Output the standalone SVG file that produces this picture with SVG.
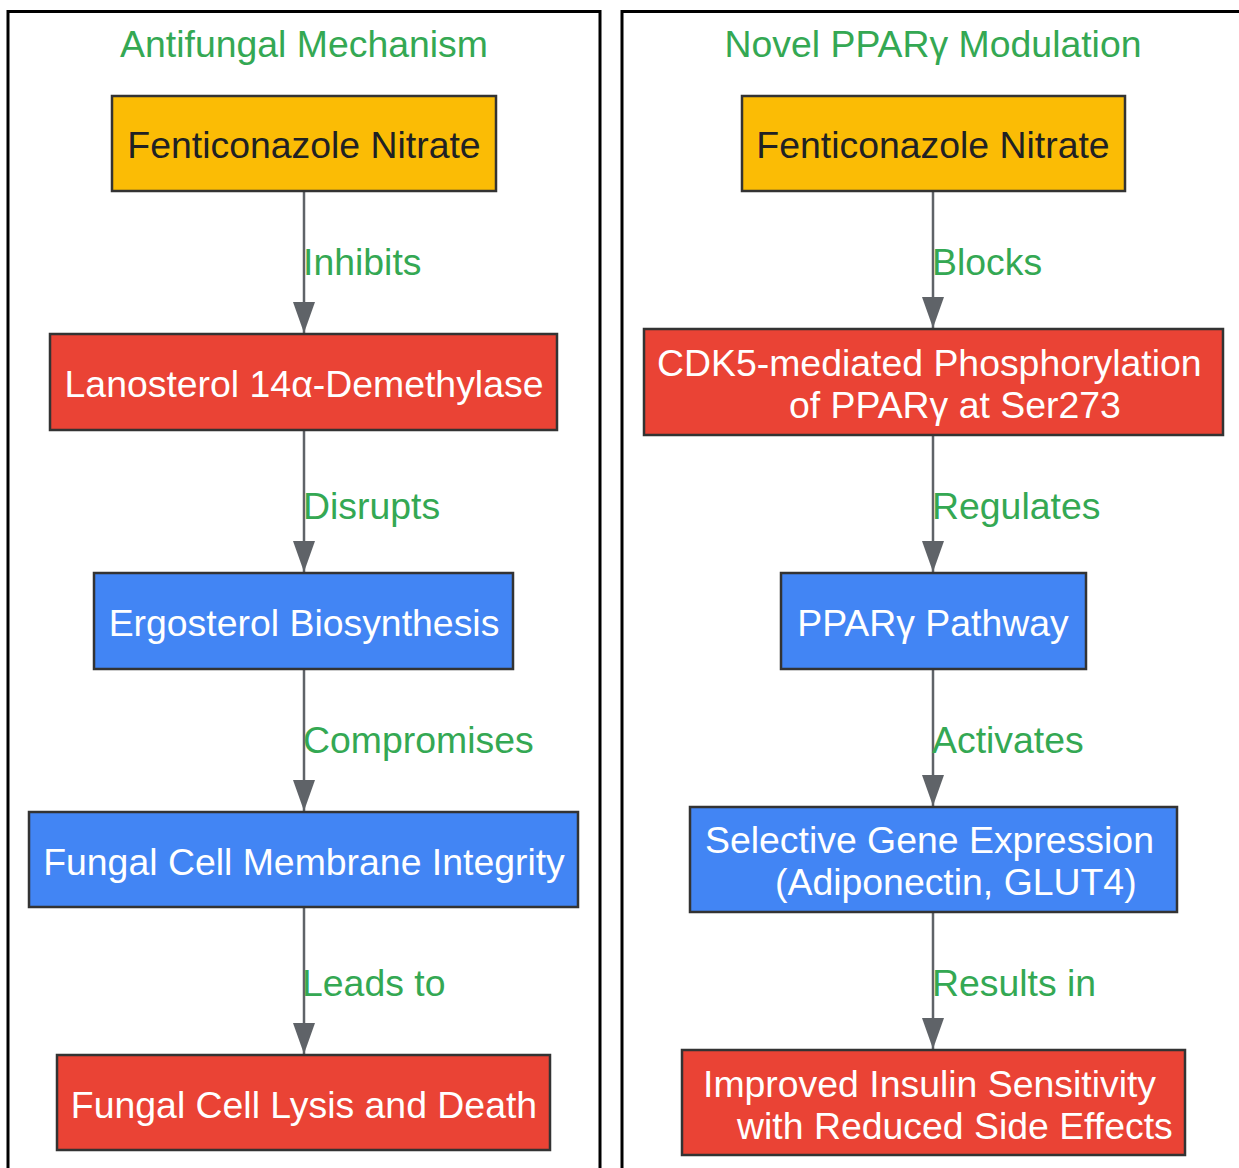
<svg xmlns="http://www.w3.org/2000/svg" width="1239" height="1168" viewBox="0 0 1239 1168">
<style>
text{font-family:"Liberation Sans",Arial,sans-serif;font-size:37.4px}
.cl{fill:#fff;stroke:#000;stroke-width:3}
.t{fill:#34A853;text-anchor:middle}
.y{fill:#FBBC05;stroke:#333;stroke-width:2.5}
.r{fill:#EA4335;stroke:#333;stroke-width:2.5}
.b{fill:#4285F4;stroke:#333;stroke-width:2.5}
.dk{fill:#202124;text-anchor:middle}
.w{fill:#fff;text-anchor:middle}
.ws{fill:#fff}
.e{stroke:#5F6368;stroke-width:2.5;fill:none}
.lb{fill:#34A853}
</style>
<defs>
<marker id="ah" viewBox="0 0 31 22" refX="31" refY="11" markerWidth="31" markerHeight="22" markerUnits="userSpaceOnUse" orient="auto">
<path d="M0,0 L31,11 L0,22 Z" fill="#5F6368"/>
</marker>
</defs>
<g id="clusters">
<rect class="cl" x="8" y="11.5" width="592" height="1170"/>
<text class="t" x="304" y="57">Antifungal Mechanism</text>
<rect class="cl" x="622" y="11.5" width="640" height="1170"/>
<text class="t" x="933" y="57">Novel PPARγ Modulation</text>
</g>
<g id="connectors">
<path class="e" d="M304,191 V333" marker-end="url(#ah)"/>
<path class="e" d="M304,430 V572" marker-end="url(#ah)"/>
<path class="e" d="M304,669 V811" marker-end="url(#ah)"/>
<path class="e" d="M304,907 V1054" marker-end="url(#ah)"/>
<path class="e" d="M933,191 V328" marker-end="url(#ah)"/>
<path class="e" d="M933,435 V572" marker-end="url(#ah)"/>
<path class="e" d="M933,669 V806" marker-end="url(#ah)"/>
<path class="e" d="M933,912 V1049" marker-end="url(#ah)"/>
<text class="lb" x="303" y="275">Inhibits</text>
<text class="lb" x="303" y="519">Disrupts</text>
<text class="lb" x="303" y="753">Compromises</text>
<text class="lb" x="302" y="996">Leads to</text>
<text class="lb" x="932" y="275">Blocks</text>
<text class="lb" x="932" y="519">Regulates</text>
<text class="lb" x="932" y="753">Activates</text>
<text class="lb" x="932" y="996">Results in</text>
</g>
<g id="a1"><rect class="y" x="112" y="96" width="384" height="95"/><text class="dk" x="304" y="158">Fenticonazole Nitrate</text></g>
<g id="a2"><rect class="r" x="50" y="334" width="507" height="96"/><text class="w" x="304" y="397">Lanosterol 14α-Demethylase</text></g>
<g id="a3"><rect class="b" x="94" y="573" width="419" height="96"/><text class="w" x="304" y="636">Ergosterol Biosynthesis</text></g>
<g id="a4"><rect class="b" x="29" y="812" width="549" height="95"/><text class="w" x="304" y="875">Fungal Cell Membrane Integrity</text></g>
<g id="a5"><rect class="r" x="57" y="1055" width="493" height="95"/><text class="w" x="304" y="1118">Fungal Cell Lysis and Death</text></g>
<g id="b1"><rect class="y" x="742" y="96" width="383" height="95"/><text class="dk" x="933" y="158">Fenticonazole Nitrate</text></g>
<g id="b2"><rect class="r" x="644" y="329" width="579" height="106"/><text class="ws" x="657" y="376">CDK5-mediated Phosphorylation</text><text class="ws" x="789" y="418">of PPARγ at Ser273</text></g>
<g id="b3"><rect class="b" x="781" y="573" width="305" height="96"/><text class="w" x="933" y="636">PPARγ Pathway</text></g>
<g id="b4"><rect class="b" x="690" y="807" width="487" height="105"/><text class="ws" x="705" y="853">Selective Gene Expression</text><text class="ws" x="775" y="895">(Adiponectin, GLUT4)</text></g>
<g id="b5"><rect class="r" x="682" y="1050" width="503" height="105"/><text class="ws" x="703" y="1097">Improved Insulin Sensitivity</text><text class="ws" x="737" y="1139">with Reduced Side Effects</text></g>
</svg>
